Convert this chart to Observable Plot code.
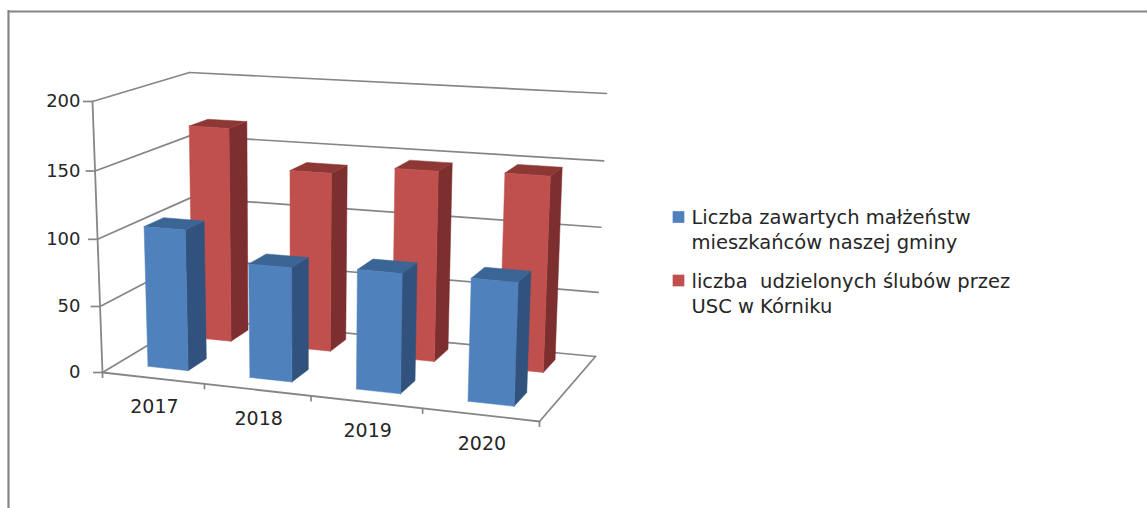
<!DOCTYPE html>
<html>
<head>
<meta charset="utf-8">
<style>
html,body{margin:0;padding:0;background:#fff;overflow:hidden}
svg{display:block}
text{white-space:pre}
</style>
<script src="https://cdn.jsdelivr.net/npm/d3@7"></script>
<script src="https://cdn.jsdelivr.net/npm/@observablehq/plot@0.6"></script>
</head>
<body>
<div id="chart"></div>
<script>
const years = ["2017", "2018", "2019", "2020"];
const marriages = [106, 85, 88, 89];
const weddings = [167, 138, 145, 147];
const valueTicks = [0, 50, 100, 150, 200];
const legendLines = [
  ["Liczba zawartych małżeństw", "mieszkańców naszej gminy"],
  ["liczba  udzielonych ślubów przez", "USC w Kórniku"]
];

// 3-D look of the box: where its corners land on the page, and perspective strength
const box = {
  fl0: [102, 372], fl1: [92, 101],
  fr0: [539, 421], fr1: [550, 131],
  bl0: [192, 318], bl1: [189, 72],
  br0: [595, 356], br1: [606, 93]
};
const warp = (s, a) => a * s / (1 + (a - 1) * s);
const mix = (p, q, k) => [p[0] + (q[0] - p[0]) * k, p[1] + (q[1] - p[1]) * k];
function project(cat, depth, value) {
  const t = warp(cat / years.length, 0.913), h = warp(value / 200, 0.966);
  const front = mix(mix(box.fl0, box.fr0, t), mix(box.fl1, box.fr1, t), h);
  const back = mix(mix(box.bl0, box.br0, t), mix(box.bl1, box.br1, t), h);
  return mix(front, back, depth);
}
const pt = (a) => ({x: a[0], y: a[1]});
const seg = (id, a, b) => [{id, ...pt(a)}, {id, ...pt(b)}];

// Box lines
const gridLines = valueTicks.flatMap((v) => [
  ...seg("l" + v, project(0, 0, v), project(0, 1, v)),
  ...seg("b" + v, project(0, 1, v), project(4, 1, v))
]);
const frameLines = [
  ...seg("axis", project(0, 0, 0), project(0, 0, 200)),
  ...seg("front", project(0, 0, 0), project(4, 0, 0)),
  ...seg("right", project(4, 0, 0), project(4, 1, 0))
];
const valueTickLines = valueTicks.map((v) => {
  const p = project(0, 0, v);
  return {x1: p[0] - 9, x2: p[0], y: p[1], label: String(v)};
});
const catTickLines = d3.range(0, years.length + 1).map((c) => {
  const p = project(c, 0, 0);
  return {x: p[0], y1: p[1], y2: p[1] + 6};
});
const catLabels = years.map((label, i) => {
  const p = project(i + 0.5, 0, 0);
  return {x: p[0] + 1.5, y: p[1] + 29, label};
});

// Bars
const series = [
  {values: weddings, d0: 0.70, d1: 0.90, u: 0.285, front: "#C0504D", side: "#7C2F2E", top: "#8E3836"},
  {values: marriages, d0: 0.175, d1: 0.39, u: 0.30, front: "#4F81BD", side: "#30527C", top: "#3B6594"}
];
const faces = [];
series.forEach((s, si) => s.values.forEach((v, i) => {
  const u0 = i + s.u, u1 = i + s.u + 0.40;
  const face = (name, fill, corners) => corners.concat([corners[0]]).forEach((c) =>
    faces.push({id: `${si}-${i}-${name}`, fill, ...pt(project(...c))}));
  face("side", s.side, [[u1, s.d0, 0], [u1, s.d1, 0], [u1, s.d1, v], [u1, s.d0, v]]);
  face("top", s.top, [[u0, s.d0, v], [u1, s.d0, v], [u1, s.d1, v], [u0, s.d1, v]]);
  face("front", s.front, [[u0, s.d0, 0], [u1, s.d0, 0], [u1, s.d0, v], [u0, s.d0, v]]);
}));

// Legend
const legendItems = [
  {y: 216.5, color: series[1].front},
  {y: 280, color: series[0].front}
];
const legendText = [
  {y: 217, label: legendLines[0][0]},
  {y: 242, label: legendLines[0][1]},
  {y: 281, label: legendLines[1][0]},
  {y: 306, label: legendLines[1][1]}
];

const gray = "#868686", ink = "#262626";
const font = "'DejaVu Sans', sans-serif";
const plot = Plot.plot({
  width: 1147, height: 508,
  margin: 0,
  x: {domain: [0, 1147], range: [0, 1147], axis: null},
  y: {domain: [0, 508], range: [0, 508], axis: null},
  color: {type: "identity"},
  style: {background: "#fff", fontFamily: font},
  marks: [
    // outer border
    Plot.ruleY([11], {x1: 8, x2: 1147, stroke: gray, strokeWidth: 2.2}),
    Plot.ruleX([8], {y1: 10, y2: 508, stroke: gray, strokeWidth: 2.2}),
    // box
    Plot.line(gridLines, {x: "x", y: "y", z: "id", stroke: gray, strokeWidth: 1.7}),
    Plot.line(frameLines, {x: "x", y: "y", z: "id", stroke: gray, strokeWidth: 1.8}),
    Plot.ruleY(valueTickLines, {x1: "x1", x2: "x2", y: "y", stroke: gray, strokeWidth: 1.7}),
    Plot.ruleX(catTickLines, {x: "x", y1: "y1", y2: "y2", stroke: gray, strokeWidth: 1.7}),
    // bars
    Plot.line(faces, {x: "x", y: "y", z: "id", fill: "fill", stroke: "fill", strokeWidth: 0.5}),
    // labels
    Plot.text(valueTickLines, {x: () => 80, y: "y", text: "label", textAnchor: "end", fontSize: 18, fill: ink}),
    Plot.text(catLabels, {x: "x", y: "y", text: "label", fontSize: 19, fill: ink}),
    // legend
    Plot.dot(legendItems, {x: () => 678, y: "y", symbol: "square", r: 6.6, fill: "color", stroke: null}),
    Plot.text(legendText, {x: () => 691, y: "y", text: "label", textAnchor: "start", fontSize: 19.5, fill: ink})
  ]
});
document.getElementById("chart").append(plot);
</script>
</body>
</html>
